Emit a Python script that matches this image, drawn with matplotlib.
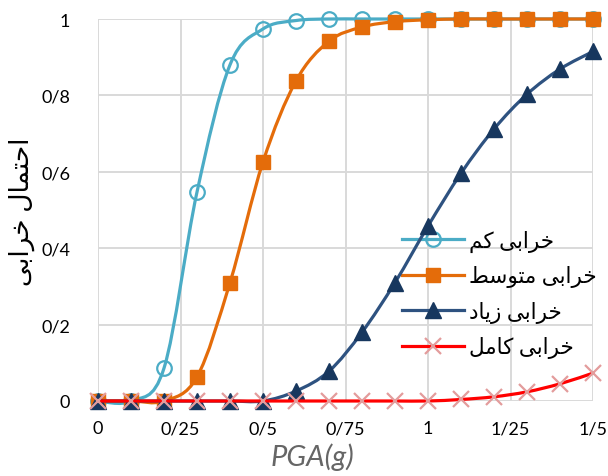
import numpy as np
import matplotlib.pyplot as plt
from matplotlib.path import Path
from matplotlib.patches import PathPatch
from matplotlib.lines import Line2D

# PGA values (g) and probability of each damage state
pga = [0.0, 0.1, 0.2, 0.3, 0.4, 0.5, 0.6, 0.7, 0.8, 0.9, 1.0, 1.1, 1.2, 1.3, 1.4, 1.5]
p_slight = [0, 0, 0.086, 0.547, 0.88, 0.974, 0.996, 1, 1, 1, 1, 1, 1, 1, 1, 1]
p_moderate = [0, 0, 0, 0.063, 0.31, 0.626, 0.838, 0.942, 0.979, 0.993, 0.998, 1, 1, 1, 1, 1]
p_extensive = [0, 0, 0, 0, 0, 0, 0.026, 0.078, 0.18, 0.31, 0.458, 0.596, 0.712, 0.803, 0.869, 0.915]
p_complete = [0, 0, 0, 0, 0, 0, 0, 0, 0, 0, 0, 0.004, 0.011, 0.024, 0.045, 0.073]

# persian labels, written in visual order with presentation forms
# (matplotlib does no arabic shaping / bidi by itself)
lbl_slight = "\uFEE2\uFB90 \uFBFD\uFE91\uFE8D\uFEAE\uFEA7"           # خرابی کم
lbl_moderate = "\uFEC2\uFEB3\uFEEE\uFE98\uFEE3 \uFBFD\uFE91\uFE8D\uFEAE\uFEA7"  # خرابی متوسط
lbl_extensive = "\uFEA9\uFE8E\uFBFE\uFEAF \uFBFD\uFE91\uFE8D\uFEAE\uFEA7"      # خرابی زیاد
lbl_complete = "\uFEDE\uFEE3\uFE8E\uFB90 \uFBFD\uFE91\uFE8D\uFEAE\uFEA7"       # خرابی کامل
ylab = "\uFBFD\uFE91\uFE8D\uFEAE\uFEA7 \uFEDD\uFE8E\uFEE4\uFE98\uFEA3\uFE8D"    # احتمال خرابی

xticks = [0, 0.25, 0.5, 0.75, 1, 1.25, 1.5]
xtick_labels = ["0", "0/25", "0/5", "0/75", "1", "1/25", "1/5"]
yticks = [0, 0.2, 0.4, 0.6, 0.8, 1]
ytick_labels = ["0", "0/2", "0/4", "0/6", "0/8", "1"]


def smooth_path(x, y):
    """Excel-like smoothed line: cubic bezier through the points"""
    x = np.asarray(x, float)
    y = np.asarray(y, float)
    n = len(x)
    verts = [(x[0], y[0])]
    codes = [Path.MOVETO]
    for i in range(n - 1):
        i0 = max(i - 1, 0)
        i3 = min(i + 2, n - 1)
        c1 = (x[i] + (x[i + 1] - x[i0]) / 6, y[i] + (y[i + 1] - y[i0]) / 6)
        c2 = (x[i + 1] - (x[i3] - x[i]) / 6, y[i + 1] - (y[i3] - y[i]) / 6)
        verts += [c1, c2, (x[i + 1], y[i + 1])]
        codes += [Path.CURVE4] * 3
    return Path(verts, codes)


plt.rcParams['font.family'] = ['Lato', 'DejaVu Sans']

fig = plt.figure(figsize=(6.08, 4.77), dpi=100)
ax = fig.add_axes([98 / 608, 1 - 402 / 477, 495 / 608, 382 / 477])

series = [
    (p_slight, '#4BACC6', 'o', dict(markerfacecolor='none', markeredgecolor='#4BACC6', markeredgewidth=1.6, markersize=10.5), lbl_slight),
    (p_moderate, '#E46C0A', 's', dict(markerfacecolor='#E46C0A', markeredgecolor='#E46C0A', markersize=10), lbl_moderate),
    (p_extensive, '#17375E', '^', dict(markerfacecolor='#17375E', markeredgecolor='#17375E', markersize=11), lbl_extensive),
    (p_complete, '#FF0000', 'x', dict(markeredgecolor='#E39C9C', markeredgewidth=1.6, markersize=11), lbl_complete),
]

handles = []
for k, (vals, col, mk, mstyle, lbl) in enumerate(series):
    line_col = '#2E5280' if mk == '^' else col
    patch = PathPatch(smooth_path(pga, vals), facecolor='none', edgecolor=line_col,
                      linewidth=2.3, zorder=3 + 2 * k, capstyle='round')
    patch.set_clip_on(False)
    ax.add_patch(patch)
    ax.plot(pga, vals, linestyle='none', marker=mk, zorder=4 + 2 * k, clip_on=False, **mstyle)
    handles.append(Line2D([], [], color=line_col, linewidth=2.3, marker=mk, **mstyle))

ax.set_xlim(0, 1.5)
ax.set_ylim(0, 1)
ax.set_xticks(xticks)
ax.set_xticklabels(xtick_labels)
ax.set_yticks(yticks)
ax.set_yticklabels(ytick_labels)
ax.tick_params(length=0, labelsize=13, pad=14)
ax.tick_params(axis='y', pad=20)
for s in ax.spines.values():
    s.set_visible(False)
ax.grid(True, color='#D9D9D9', linewidth=1.4)
ax.set_axisbelow(True)

# axis titles (x title sits left of the axes centre in the original)
fig.text(312 / 608, 1 - 457 / 477, 'PGA(g)', fontsize=21, style='italic',
         color='#666666', ha='center', va='center')
fig.text(0.036, 1 - 212 / 477, ylab, rotation=90, fontsize=19, ha='center', va='center')

ax.legend(handles, [s[4] for s in series], loc='center left',
          bbox_to_anchor=(402 / 608, 1 - 295 / 477), bbox_transform=fig.transFigure,
          frameon=False, fontsize=15.5, handlelength=2.9, handletextpad=0.2,
          labelspacing=0.62, borderpad=0, borderaxespad=0)

fig.savefig('out.png', dpi=100)
